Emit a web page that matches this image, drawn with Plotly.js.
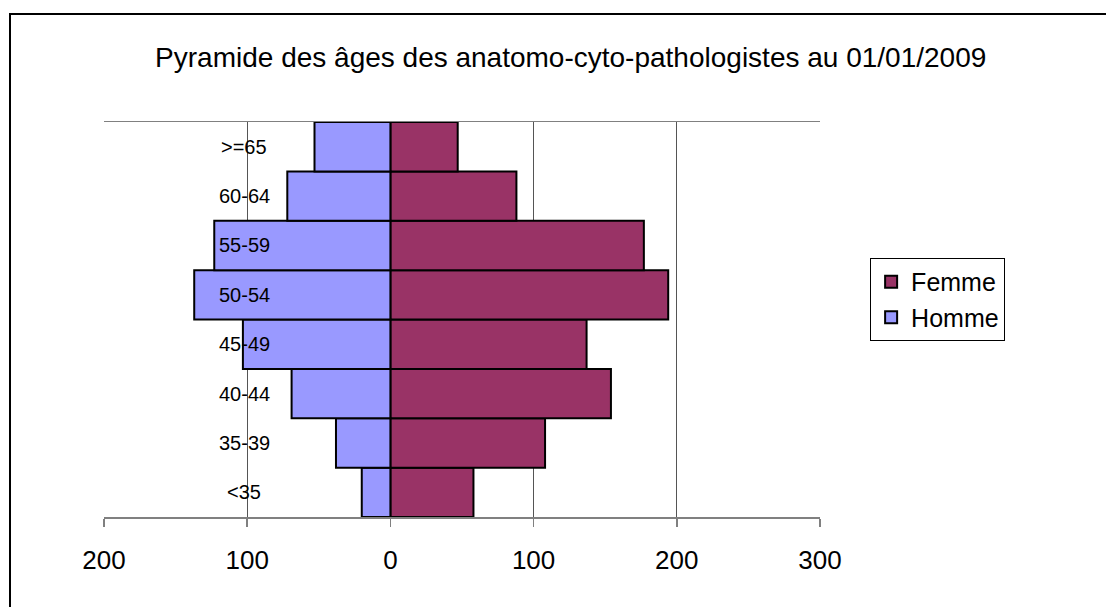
<!DOCTYPE html>
<html>
<head>
<meta charset="utf-8">
<script src="https://cdn.plot.ly/plotly-3.0.1.min.js"></script>
<style>
  html, body { margin: 0; padding: 0; background: #fff; }
  #wrap { position: relative; width: 1106px; height: 607px; overflow: hidden; }
  #chart { position: absolute; left: 0; top: 0; width: 1106px; height: 607px; }
  #frame { position: absolute; left: 9px; top: 13px; width: 1200px; height: 700px;
           border-left: 2px solid #000; border-top: 2px solid #000; pointer-events: none; }
</style>
</head>
<body>
<div id="wrap">
  <div id="chart"></div>
  <div id="frame"></div>
</div>
<script>
// Age groups (bottom to top)
const categories = ['<35', '35-39', '40-44', '45-49', '50-54', '55-59', '60-64', '>=65'];
// Counts
const femme = [58, 108, 154, 137, 194, 177, 88, 47];
const homme = [20, 38, 69, 103, 137, 123, 72, 53];
// Value axis ticks
const tickValues = [-200, -100, 0, 100, 200, 300];
const tickLabels = ['200', '100', '0', '100', '200', '300'];

const FONT = 'Liberation Sans, Arial, sans-serif';

const traces = [
  {
    type: 'bar', orientation: 'h', name: 'Femme',
    y: categories, x: femme,
    marker: { color: '#993366', line: { color: '#000', width: 2 } },
    legendgroup: 'f', hoverinfo: 'skip'
  },
  {
    type: 'bar', orientation: 'h', name: 'Homme',
    y: categories, x: homme.map(v => -v),
    marker: { color: '#9999FF', line: { color: '#000', width: 2 } },
    legendgroup: 'h', hoverinfo: 'skip'
  }
];

const annotations = categories.map(c => ({
  x: -102, y: c, xref: 'x', yref: 'y', text: c, showarrow: false,
  xanchor: 'center', yanchor: 'middle',
  font: { family: FONT, size: 20, color: '#000' }
}));

const layout = {
  width: 1106, height: 607,
  margin: { l: 104, r: 286, t: 122, b: 90 },
  paper_bgcolor: '#fff', plot_bgcolor: '#fff',
  barmode: 'relative', bargap: 0,
  showlegend: true,
  title: {
    text: 'Pyramide des âges des anatomo-cyto-pathologistes au 01/01/2009',
    font: { family: FONT, size: 28, color: '#000' },
    xref: 'container', yref: 'container', x: 0.516, y: 0.906,
    xanchor: 'center', yanchor: 'middle'
  },
  xaxis: {
    range: [-200, 300], tickmode: 'array', tickvals: tickValues, ticktext: tickLabels,
    showgrid: true, gridcolor: '#555', gridwidth: 1,
    zeroline: false,
    showline: true, linecolor: '#808080', linewidth: 1.5, mirror: true,
    ticks: 'outside', ticklen: 8, tickcolor: '#808080', tickwidth: 1.5,
    ticklabelstandoff: 11,
    tickfont: { family: FONT, size: 26, color: '#000' },
    fixedrange: true
  },
  yaxis: {
    type: 'category', categoryorder: 'array', categoryarray: categories,
    showticklabels: false, showgrid: false, zeroline: false, showline: false,
    ticks: '', fixedrange: true
  },
  legend: {
    x: 1.07, y: 0.656, xanchor: 'left', yanchor: 'top',
    bordercolor: '#000', borderwidth: 1, bgcolor: '#fff',
    font: { family: FONT, size: 25, color: '#000' },
    tracegroupgap: 6, traceorder: 'normal', itemwidth: 30
  },
  annotations: annotations
};

Plotly.newPlot('chart', traces, layout, { staticPlot: true, displayModeBar: false });
</script>
</body>
</html>
